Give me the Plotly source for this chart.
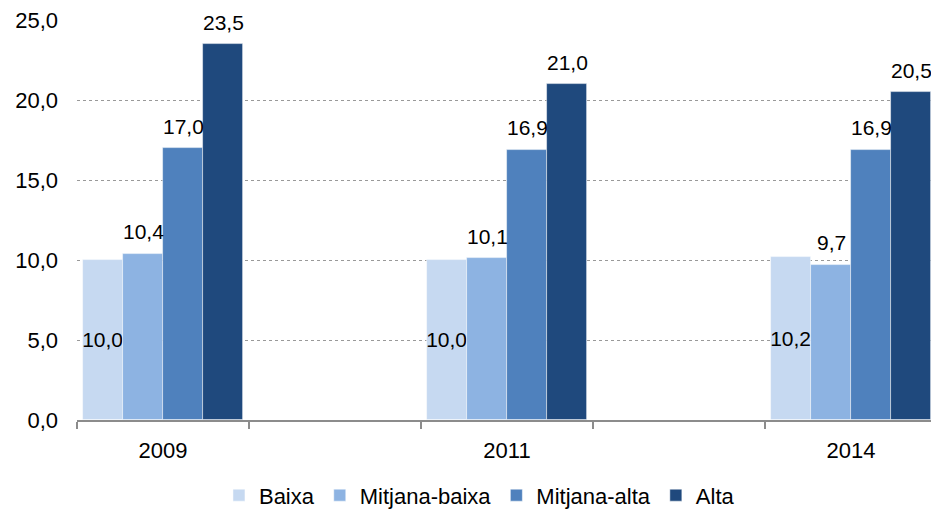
import plotly.graph_objects as go

years = ["2009", "2011", "2014"]
series_names = ["Baixa", "Mitjana-baixa", "Mitjana-alta", "Alta"]
baixa = [10.0, 10.0, 10.2]
mitjana_baixa = [10.4, 10.1, 9.7]
mitjana_alta = [17.0, 16.9, 16.9]
alta = [23.5, 21.0, 20.5]
y_ticks = [0, 5, 10, 15, 20, 25]

colors = ["#C6D9F1", "#8DB3E2", "#4F81BD", "#1F497D"]
values = [baixa, mitjana_baixa, mitjana_alta, alta]

# group centres on a numeric axis (each year occupies one slot followed by an empty slot)
xpos = [0, 2, 4]
bar_w = 0.2326

FONT = "Liberation Sans, Arial, sans-serif"

fig = go.Figure()
annotations = []
for i, (name, vals, col) in enumerate(zip(series_names, values, colors)):
    off = -2 * bar_w + i * bar_w
    inside = (i == 0)
    fig.add_trace(go.Bar(
        x=xpos, y=vals, name=name,
        width=bar_w, offset=off,
        marker=dict(color=col, line=dict(color="rgba(255,255,255,0.6)", width=0.8)),
        texttemplate="%{y:.1f}" if inside else "",
        textposition="inside" if inside else "none",
        insidetextanchor="middle",
        textangle=0,
        textfont=dict(color="#000000", size=21, family=FONT),
        cliponaxis=False,
    ))
    if not inside:
        for xv, v in zip(xpos, vals):
            annotations.append(dict(
                x=xv + off + bar_w / 2, y=v, xref="x", yref="y",
                text=f"{v:.1f}".replace(".", ","), showarrow=False,
                yanchor="middle", xanchor="center", yshift=22,
                font=dict(color="#000000", size=21, family=FONT),
            ))

fig.update_layout(
    width=931, height=516,
    margin=dict(l=77, r=0, t=20, b=96),
    plot_bgcolor="white", paper_bgcolor="white",
    separators=",.",
    font=dict(family=FONT, size=22, color="#000000"),
    showlegend=True,
    legend=dict(orientation="h", x=0.515, xref="container", xanchor="center",
                y=0.04, yref="container", yanchor="middle",
                font=dict(size=22), itemwidth=30, tracegroupgap=0),
    uniformtext=dict(minsize=21, mode="show"),
    bargap=0,
    annotations=annotations,
)
fig.update_yaxes(
    range=[0, 25], tickvals=y_ticks, tickformat=".1f",
    showgrid=True, gridcolor="#999999", griddash="dot", gridwidth=1,
    showline=False, zeroline=False, ticks="", ticklabelstandoff=18,
    automargin=False,
)
fig.update_xaxes(
    range=[-0.5, 4.465], tickvals=xpos, ticktext=years,
    showgrid=False, zeroline=False, showline=True, linecolor="#8C8C8C", linewidth=2,
    ticks="", ticklabelstandoff=10, automargin=False,
    minor=dict(tick0=-0.5, dtick=1, ticks="outside", ticklen=7, tickcolor="#8C8C8C", tickwidth=2, showgrid=False),
)

fig.write_html("out.html", config={"displayModeBar": False},
               post_script="document.body.style.margin='0';")
